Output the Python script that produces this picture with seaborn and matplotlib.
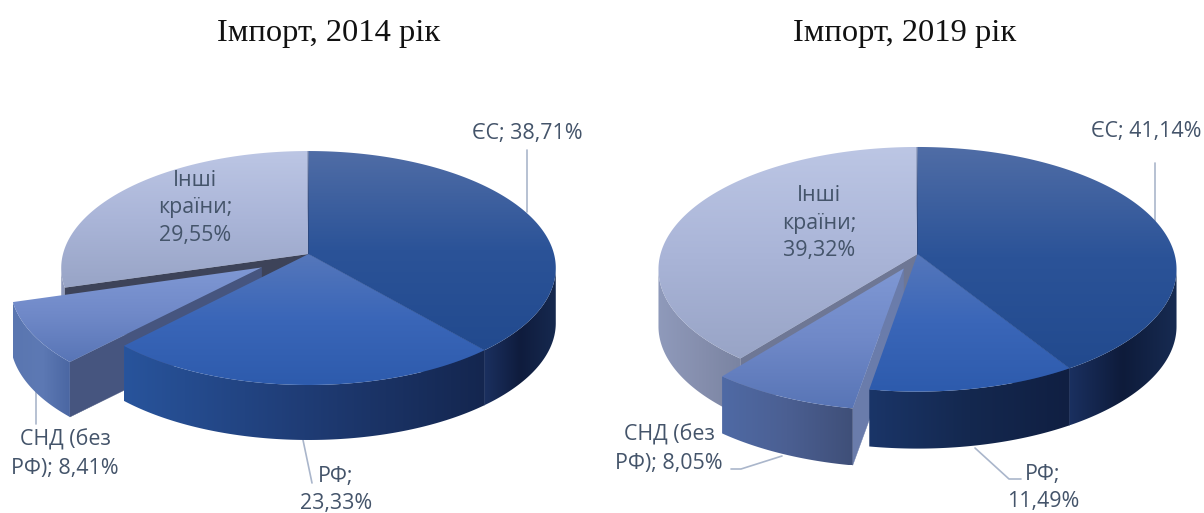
import numpy as np
import seaborn as sns
import matplotlib.pyplot as plt
from matplotlib.patches import Polygon

sns.set_theme(style='white')
plt.rcParams['font.family'] = ['Open Sans', 'DejaVu Sans']

# shares in percent, clockwise from 12 o'clock
values_2014 = [38.71, 23.33, 8.41, 29.55]
values_2019 = [41.14, 11.49, 8.05, 39.32]
explode_2014 = [0, 0, 0.22, 0]
explode_2019 = [0, 0, 0.13, 0]
titles = ['Імпорт, 2014 рік', 'Імпорт, 2019 рік']
labels_2014 = ['ЄС; 38,71%', 'РФ;\n23,33%', 'СНД (без\nРФ); 8,41%', 'Інші\nкраїни;\n29,55%']
labels_2019 = ['ЄС; 41,14%', 'РФ;\n11,49%', 'СНД (без\nРФ); 8,05%', 'Інші\nкраїни;\n39,32%']

# colours per slice: eu, ru, cis, other
top_cols = [['#506da6', '#2b5398', '#224a8e'],
            ['#5577bb', '#3a66b8', '#2d5bad'],
            ['#7f98d4', '#7089c8', '#5875b6'],
            ['#bcc6e4', '#aab5d8', '#98a4c6']]
wall_2014 = [['#1b3060', '#0f1c3d', '#16294f'],
             ['#28549c', '#1f3c75', '#14264f'],
             ['#5a76b0', '#5d79b4', '#4a66a2'],
             ['#8f9abc', '#8f9abc', '#8f9abc']]
wall_2019 = [['#1a3060', '#0e1b3a', '#172b52'],
             ['#1a3568', '#14284f', '#101f42'],
             ['#4f6aa5', '#4b5f92', '#3f4f78'],
             ['#8f9abb', '#868fae', '#7a84a2']]
cut_2014 = ['#1a2f5c', '#1a2f5c', '#46557f', '#3d4359']
cut_2019 = ['#1a2f5c', '#1a2f5c', '#6a7cab', '#6e7795']

fig = plt.figure(figsize=(12.04, 5.13), dpi=100)
ax = fig.add_axes([0, 0, 1, 1])
ax.set_axis_off()


def project(px, py, cx, cy, rx, ry, dist):
    # flat pie coordinates to the screen, with a bit of perspective
    s = dist / (dist + py)
    return cx + px * rx * s, cy - py * ry * s


def grad_fill(xy, cols, horizontal, z):
    x0, y0 = xy.min(axis=0)
    x1, y1 = xy.max(axis=0)
    cmap = sns.blend_palette(cols, as_cmap=True)
    g = np.linspace(0, 1, 256)
    g = g[None, :] if horizontal else g[:, None]
    im = ax.imshow(g, cmap=cmap, vmin=0, vmax=1, extent=(x0, x1, y1, y0), aspect='auto', zorder=z)
    poly = Polygon(xy, closed=True, transform=ax.transData, fc='none', ec='none')
    im.set_clip_path(poly)


def pie3d(vals, expl, cx, cy, rx, ry, dist, depth, walls, cuts, z0):
    wedges, _ = ax.pie(vals, explode=expl, startangle=90, counterclock=False)
    # back slices first, the russia slice sits in front of the exploded one
    order = [3, 0, 2, 1]
    z = z0
    for i in order:
        w = wedges[i]
        c = np.array(w.center)
        t = np.radians(np.linspace(w.theta1, w.theta2, 200))
        ax_x = c[0] + np.cos(t)
        ax_y = c[1] + np.sin(t)
        ox, oy = project(ax_x, ax_y, cx, cy, rx, ry, dist)
        ax0, ay0 = project(c[0], c[1], cx, cy, rx, ry, dist)
        w.remove()
        top = np.vstack([[ax0, ay0], np.column_stack([ox, oy])])
        mid = top.mean(axis=0)

        # cut faces, only those on the lower side of the top face
        for k in (0, -1):
            a = np.array([ax0, ay0])
            p = np.array([ox[k], oy[k]])
            v = p - a if p[0] > a[0] else a - p
            if v[0] * (mid[1] - ay0) - v[1] * (mid[0] - ax0) < 0:
                quad = [a, p, p + [0, depth], a + [0, depth]]
                ax.add_patch(Polygon(quad, closed=True, fc=cuts[i], ec=cuts[i], lw=0.3, zorder=z))
                z += 1

        # outer wall, front part of the arc only
        front = np.gradient(ox) > 0
        if front.any():
            wx, wy = ox[front], oy[front]
            wall = np.vstack([np.column_stack([wx, wy]), np.column_stack([wx, wy + depth])[::-1]])
            grad_fill(wall, walls[i], True, z)
            z += 1

        grad_fill(top, top_cols[i], False, z)
        z += 1
    return z


z = pie3d(values_2014, explode_2014, 308.5, 254, 245.5, 115.3, 8.35, 55, wall_2014, cut_2014, 2)
pie3d(values_2019, explode_2019, 917.5, 254, 257, 120.4, 8, 57, wall_2019, cut_2019, z + 1)

ax.set_aspect('auto')
ax.set_xlim(0, 1204)
ax.set_ylim(513, 0)

# leader lines
line_col = '#aab6cb'
for xs, ys in [([527, 527], [150, 212]), ([303, 312], [440, 483]), ([36, 36], [391, 424]),
               ([1155, 1155], [163, 222]), ([975, 1009, 1021], [448, 479, 479]),
               ([782, 741, 731], [456, 469, 469])]:
    ax.plot(xs, ys, color=line_col, lw=1.2, zorder=1)

# titles
for x, t in zip([329, 905], titles):
    ax.text(x, 33, t, family='Liberation Serif', fontsize=23.4, color='#111111', ha='center', va='center')

# slice labels
txt = '#44546a'
pos_2014 = [(527, 133), (336, 490), (65, 454), (195, 208)]
pos_2019 = [(1146, 132), (1043, 488), (669, 449), (819, 223)]
for labs, pos in [(labels_2014, pos_2014), (labels_2019, pos_2019)]:
    for lab, (x, y) in zip(labs, pos):
        ax.text(x, y, lab, fontsize=15.4, color=txt, ha='center', va='center', linespacing=1.42, zorder=100)

fig.savefig('out.png', dpi=100)
